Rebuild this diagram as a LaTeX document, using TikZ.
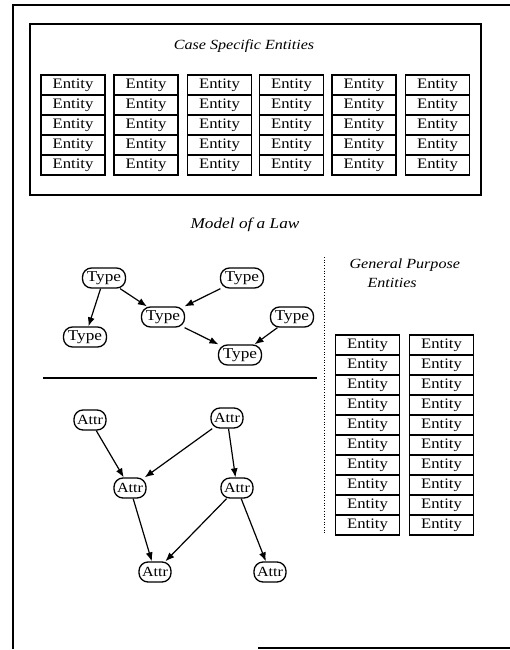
\documentclass[tikz,border=0pt]{standalone}
\usepackage{fontspec}
\setmainfont[FakeStretch=1.15]{Liberation Serif}
\usetikzlibrary{arrows.meta,shapes.geometric}
\begin{document}
\begin{tikzpicture}[x=1pt,y=-1pt,
  ent/.style={draw,line width=1.1pt,minimum width=64pt,minimum height=20pt,inner sep=0pt,font=\fontsize{14.5}{14.5}\selectfont},
  typ/.style={draw,line width=1.3pt,rounded corners=9pt,minimum width=43pt,minimum height=20pt,inner sep=1pt,font=\fontsize{15}{15}\selectfont},
  attr/.style={draw,line width=1.3pt,rounded corners=9pt,minimum width=32pt,minimum height=20pt,inner sep=1pt,font=\fontsize{14}{14}\selectfont},
  arr/.style={-{Latex[length=9pt,width=7pt]},line width=1.2pt},
  ttl/.style={font=\fontsize{14}{16}\selectfont\itshape},
  frame/.style={line width=1.5pt}]
\useasboundingbox (0,0) rectangle (510,650);
% outer frame
\coordinate (f1) at (510,5);
\coordinate (f2) at (13,5);
\coordinate (f3) at (13,649);
\coordinate (f4) at (258,648);
\coordinate (f5) at (510,648);
\draw[frame] (f1) -- (f2) -- (f3);
\draw[frame] (f4) -- (f5);
% case specific box
\node[draw,line width=1.3pt,minimum width=451pt,minimum height=171pt,inner sep=0pt] (csbox) at (255.5,109.5) {};
\node[ttl] (cstitle) at (244,46) {Case Specific Entities};
\foreach \cx [count=\i] in {73,146,219.5,291.5,364,437.5}{
  \foreach \r in {1,...,5}{
    \node[ent] (cs-\i-\r) at (\cx,{65+20*\r}) {Entity};
  }
}
% model of a law
\node[ttl,font=\fontsize{15}{17}\selectfont\itshape] (mtitle) at (245,225) {Model of a Law};
\node[typ] (t1) at (104,278) {Type};
\node[typ] (t2) at (242,278) {Type};
\node[typ] (t3) at (163,317) {Type};
\node[typ] (t4) at (292,317) {Type};
\node[typ] (t5) at (85,337) {Type};
\node[typ] (t6) at (240,355) {Type};
\draw[arr] (t1) -- (t5);
\draw[arr] (t1) -- (t3);
\draw[arr] (t2) -- (t3);
\draw[arr] (t3) -- (t6);
\draw[arr] (t4) -- (t6);
% divider
\coordinate (d1) at (43,378);
\coordinate (d2) at (317,378);
\draw[line width=1.2pt] (d1) -- (d2);
\coordinate (v1) at (324,257);
\coordinate (v2) at (324,535);
\draw[dotted,line width=0.7pt] (v1) -- (v2);
% attributes
\node[attr] (a1) at (90,420) {Attr};
\node[attr] (a2) at (227,418) {Attr};
\node[attr] (a3) at (130,488) {Attr};
\node[attr] (a4) at (237,488) {Attr};
\node[attr] (a5) at (155,572) {Attr};
\node[attr] (a6) at (270,572) {Attr};
\draw[arr] (a1) -- (a3);
\draw[arr] (a2) -- (a3);
\draw[arr] (a2) -- (a4);
\draw[arr] (a3) -- (a5);
\draw[arr] (a4) -- (a5);
\draw[arr] (a4) -- (a6);
% general purpose
\node[ttl,anchor=west] (gp1) at (346,265) {General Purpose};
\node[ttl,anchor=west] (gp2) at (364,283) {Entities};
\foreach \cx [count=\i] in {367.5,441.5}{
  \foreach \r in {1,...,10}{
    \node[ent] (gp-\i-\r) at (\cx,{325+20*\r}) {Entity};
  }
}
\end{tikzpicture}
\end{document}
